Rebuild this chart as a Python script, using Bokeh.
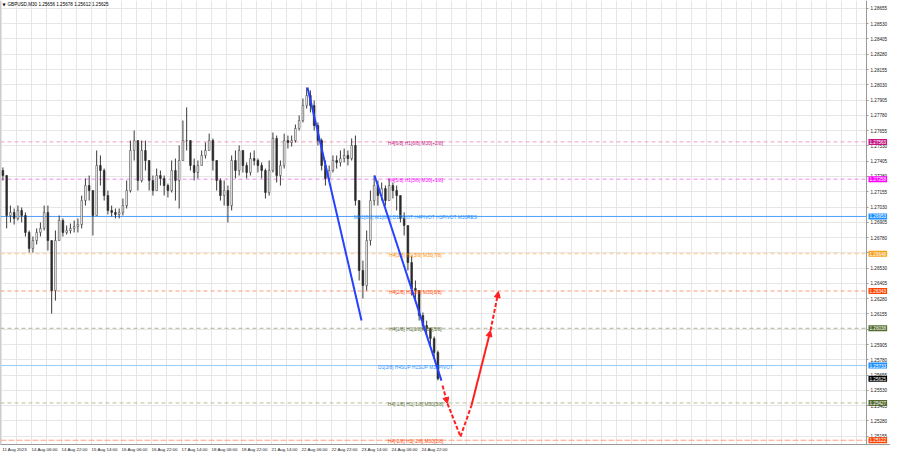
from bokeh.plotting import figure
from bokeh.models import (ColumnDataSource, FixedTicker, Span, Label, Arrow, BoxAnnotation,
                          NormalHead, Range1d, PrintfTickFormatter)
from bokeh.core.properties import value
from bokeh.embed import file_html
from bokeh.resources import INLINE

# ---------------- data ----------------
symbol = "GBPUSD,M30"
header_ohlc = [1.25656, 1.25678, 1.25612, 1.25625]

bars_per_candle = 4          # each drawn candle groups four M30 bars
first_open = 1.27329

closes = [
    1.27288, 1.26961, 1.26986, 1.26937, 1.27002, 1.26961, 1.26822, 1.26691, 1.26756, 1.26822,
    1.26855, 1.26986, 1.26756, 1.26347, 1.26756, 1.26920, 1.26822, 1.26838, 1.26855, 1.26871,
    1.26887, 1.27083, 1.27206, 1.27165, 1.26961, 1.27370, 1.27329, 1.27124, 1.27002, 1.26986,
    1.26969, 1.26986, 1.27042, 1.27165, 1.27493, 1.27574, 1.27247, 1.27493, 1.27411, 1.27247,
    1.27165, 1.27288, 1.27264, 1.27206, 1.27165, 1.27329, 1.27247, 1.27411, 1.27574, 1.27574,
    1.27370, 1.27313, 1.27370, 1.27452, 1.27493, 1.27574, 1.27411, 1.27247, 1.27124, 1.27165,
    1.27042, 1.27411, 1.27329, 1.27493, 1.27370, 1.27313, 1.27427, 1.27411, 1.27370, 1.27329,
    1.27149, 1.27329, 1.27591, 1.27288, 1.27370, 1.27574, 1.27558, 1.27574, 1.27673, 1.27738,
    1.27861, 1.27943, 1.27861, 1.27697, 1.27574, 1.27370, 1.27264, 1.27329, 1.27411, 1.27395,
    1.27427, 1.27452, 1.27427, 1.27534, 1.27083, 1.26511, 1.26388, 1.26756, 1.27083, 1.27206,
    1.27124, 1.27181, 1.27083, 1.27206, 1.27165, 1.27124, 1.26937, 1.26879, 1.26576, 1.26364,
    1.26347, 1.26142, 1.26060, 1.26036, 1.25954, 1.25840, 1.25625]

highs = [
    1.27354, 1.27264, 1.27042, 1.27018, 1.27042, 1.27026, 1.26986, 1.26838, 1.26789, 1.26855,
    1.26904, 1.27042, 1.27042, 1.26756, 1.26838, 1.26961, 1.26937, 1.26879, 1.26895, 1.26920,
    1.26937, 1.27124, 1.27264, 1.27288, 1.27165, 1.27493, 1.27452, 1.27345, 1.27165, 1.27042,
    1.27018, 1.27018, 1.27100, 1.27247, 1.27574, 1.27656, 1.27574, 1.27574, 1.27574, 1.27411,
    1.27288, 1.27345, 1.27329, 1.27288, 1.27222, 1.27411, 1.27427, 1.27534, 1.27738, 1.27845,
    1.27574, 1.27427, 1.27411, 1.27493, 1.27558, 1.27631, 1.27591, 1.27411, 1.27264, 1.27247,
    1.27206, 1.27452, 1.27493, 1.27534, 1.27493, 1.27395, 1.27476, 1.27493, 1.27427, 1.27395,
    1.27345, 1.27411, 1.27640, 1.27615, 1.27411, 1.27631, 1.27615, 1.27615, 1.27705, 1.27779,
    1.27918, 1.28008, 1.27984, 1.27902, 1.27722, 1.27591, 1.27411, 1.27370, 1.27452, 1.27452,
    1.27493, 1.27509, 1.27493, 1.27591, 1.27615, 1.27083, 1.26592, 1.26838, 1.27165, 1.27288,
    1.27247, 1.27231, 1.27206, 1.27264, 1.27231, 1.27206, 1.27124, 1.26986, 1.26879, 1.26633,
    1.26429, 1.26347, 1.26167, 1.26101, 1.26036, 1.25971, 1.25856]

lows = [
    1.27247, 1.26855, 1.26904, 1.26887, 1.26920, 1.26904, 1.26789, 1.26658, 1.26658, 1.26723,
    1.26789, 1.26838, 1.26674, 1.26158, 1.26265, 1.26756, 1.26789, 1.26805, 1.26813, 1.26822,
    1.26822, 1.26855, 1.27042, 1.27083, 1.26797, 1.26961, 1.27206, 1.27083, 1.26969, 1.26953,
    1.26937, 1.26937, 1.26961, 1.27018, 1.27149, 1.27411, 1.27165, 1.27231, 1.27329, 1.27165,
    1.27124, 1.27165, 1.27206, 1.27124, 1.27108, 1.27149, 1.27083, 1.27018, 1.27411, 1.27493,
    1.27329, 1.27247, 1.27264, 1.27370, 1.27427, 1.27493, 1.27329, 1.27165, 1.27083, 1.27042,
    1.26904, 1.27002, 1.27264, 1.27288, 1.27313, 1.27264, 1.27288, 1.27370, 1.27313, 1.27264,
    1.27100, 1.27124, 1.27313, 1.27231, 1.27206, 1.27345, 1.27509, 1.27525, 1.27558, 1.27656,
    1.27722, 1.27836, 1.27804, 1.27656, 1.27534, 1.27329, 1.27206, 1.27247, 1.27313, 1.27345,
    1.27362, 1.27395, 1.27370, 1.27411, 1.27042, 1.26429, 1.26282, 1.26347, 1.26715, 1.27042,
    1.27042, 1.27083, 1.27042, 1.27083, 1.27100, 1.27002, 1.26904, 1.26797, 1.26511, 1.26306,
    1.26265, 1.26101, 1.26020, 1.25979, 1.25897, 1.25791, 1.25612]

time_labels = ["11 Aug 2023", "14 Aug 06:00", "14 Aug 22:00", "15 Aug 14:00",
               "16 Aug 06:00", "16 Aug 22:00", "17 Aug 14:00", "18 Aug 06:00",
               "18 Aug 22:00", "21 Aug 14:00", "22 Aug 06:00", "22 Aug 22:00",
               "23 Aug 14:00", "24 Aug 06:00", "24 Aug 22:00"]
bars_per_time_label = 32

price_ticks = [1.25030, 1.25155, 1.25280, 1.25405, 1.25530, 1.25655, 1.25780, 1.25905,
               1.26030, 1.26155, 1.26280, 1.26405, 1.26530, 1.26655, 1.26780, 1.26905,
               1.27030, 1.27155, 1.27280, 1.27405, 1.27530, 1.27655, 1.27780, 1.27905,
               1.28030, 1.28155, 1.28280, 1.28405, 1.28530, 1.28655]

levels = [1.27563, 1.27258, 1.26953, 1.26648, 1.26343, 1.26038, 1.25733, 1.25427, 1.25122]
level_names = ["H4[6/8] H1[6/8] M30[+2/8]",
               "H4[5/8] H1[5/8] M30[+1/8]",
               "MN1[8/8] W1[8/8] D1PIVOT H4PIVOT H1PIVOT M30RES",
               "H4[3/8] H1[3/8] M30[7/8]",
               "H4[2/8] H1[2/8] M30[6/8]",
               "H4[1/8] H1[1/8] M30[5/8]",
               "D1[3/8] H4SUP H1SUP M30PIVOT",
               "H4[-1/8] H1[-1/8] M30[3/8]",
               "H4[-2/8] H1[-2/8] M30[2/8]"]

# trend lines (bar index, price)
trend1_x = [326.4, 384.0]
trend1_y = [1.28008, 1.26101]
trend2_x = [397.9, 469.3]
trend2_y = [1.27288, 1.25610]

# forecast path (bar index, price)
forecast_x = [470.4, 475.7, 489.6, 501.3, 521.6, 530.1]
forecast_y = [1.25569, 1.25422, 1.25152, 1.25406, 1.26020, 1.26339]
forecast_solid = [False, False, False, True, False]
forecast_head = [True, False, False, True, True]

# ---------------- styles ----------------
level_text_colors = ["#c71585", "#ff00ff", "#1e90ff", "#ff8c00", "#ff4500",
                     "#556b2f", "#1e90ff", "#556b2f", "#ff4500"]
level_box_colors = ["#c71585", "#ff00ff", "#1e90ff", "#f5a21e", "#ff4500",
                    "#556b2f", "#1e90ff", "#556b2f", "#ff4500"]
level_line_colors = ["#f09cc8", "#f08cf0", "#4aa0ff", "#ffc68a", "#ff9a7a",
                     "#b0b596", "#9ccaf5", "#b8bf98", "#ffa080"]
level_dash = ["4 3", "4 3", "solid", "4 3", "4 3", "4 3", "solid", "4 3", "6 2"]

FONT = "Liberation Sans"
FS = "4.6px"

PX_PER_BAR = 0.9375
FRAME_W, FRAME_H = 890, 444
AXIS_PX = 866                      # where the price axis sits inside the frame
x_start = -1.07
x_end = x_start + FRAME_W / PX_PER_BAR
axis_x = x_start + AXIS_PX / PX_PER_BAR
y_bottom, y_top = 1.25087, 1.28720
px_per_price = FRAME_H / (y_top - y_bottom)

# ---------------- derived candles ----------------
n = len(closes)
assert len(highs) == n and len(lows) == n
opens = [first_open] + closes[:-1]
hi = [max(h, o, c) for h, o, c in zip(highs, opens, closes)]
lo = [min(l, o, c) for l, o, c in zip(lows, opens, closes)]
xs = [bars_per_candle * i + (bars_per_candle - 1) / 2 for i in range(n)]
up = [c >= o for o, c in zip(opens, closes)]

src_all = ColumnDataSource(dict(x=xs, hi=hi, lo=lo))
src_up = ColumnDataSource(dict(x=[x for x, u in zip(xs, up) if u],
                               top=[c for c, u in zip(closes, up) if u],
                               bottom=[o for o, u in zip(opens, up) if u]))
src_dn = ColumnDataSource(dict(x=[x for x, u in zip(xs, up) if not u],
                               top=[o for o, u in zip(opens, up) if not u],
                               bottom=[c for c, u in zip(closes, up) if not u]))

p = figure(frame_width=FRAME_W, frame_height=FRAME_H, x_range=Range1d(x_start, x_end),
           y_range=Range1d(y_bottom, y_top), y_axis_location="right",
           output_backend="svg", toolbar_location=None,
           min_border_left=0, min_border_top=0,
           min_border_right=0, min_border_bottom=0)
p.background_fill_color = "white"
p.border_fill_color = "white"
p.outline_line_color = None

# grid
grid_bars = bars_per_time_label // 2
p.xgrid.ticker = FixedTicker(ticks=list(range(0, int(axis_x) + 1, grid_bars)))
p.xgrid.grid_line_color = "#e6e6e6"
p.ygrid.grid_line_color = "#e6e6e6"

# x axis: labels left-aligned at the tick (shift centre by half label width)
shift = 14
xt = [k * bars_per_time_label + shift for k in range(len(time_labels))]
p.xaxis.ticker = FixedTicker(ticks=xt)
p.xaxis.major_label_overrides = {t: lab for t, lab in zip(xt, time_labels)}
p.xaxis.major_tick_out = 0
p.xaxis.major_tick_in = 0
p.xaxis.minor_tick_out = 0
p.xaxis.minor_tick_in = 0
p.xaxis.major_label_standoff = 2
p.xaxis.axis_line_color = "#9a9a9a"
p.xaxis.major_label_text_font = FONT
p.xaxis.major_label_text_font_size = "4.4px"
p.xaxis.major_label_text_color = "#202020"

# price axis fixed inside the frame, like the terminal's price scale
p.yaxis.fixed_location = axis_x
p.yaxis.ticker = FixedTicker(ticks=price_ticks)
p.yaxis.formatter = PrintfTickFormatter(format="%.5f")
p.yaxis.major_tick_out = 2
p.yaxis.major_tick_in = 0
p.yaxis.minor_tick_out = 0
p.yaxis.minor_tick_in = 0
p.yaxis.major_label_standoff = 2
p.yaxis.axis_line_color = "#9a9a9a"
p.yaxis.major_tick_line_color = "#9a9a9a"
p.yaxis.major_label_text_font = FONT
p.yaxis.major_label_text_font_size = FS
p.yaxis.major_label_text_color = "#202020"

# left border line of the chart window
p.add_layout(Span(location=x_start, dimension="height", line_color="#9a9a9a",
                  line_width=1, level="underlay"))

# level lines
for lv, col, dash in zip(levels, level_line_colors, level_dash):
    p.add_layout(Span(location=lv, dimension="width", line_color=col,
                      line_width=1, line_dash=dash, level="underlay"))

# blank price-scale strip (covers grid and level lines right of the axis)
p.add_layout(BoxAnnotation(left=axis_x, fill_color="white", fill_alpha=1.0,
                           line_color=None, level="underlay"))

# candles
p.segment(x0="x", y0="lo", x1="x", y1="hi", source=src_all, line_color="#3a3a3a", line_width=1)
p.vbar(x="x", top="top", bottom="bottom", width=1.8, source=src_up,
       fill_color="white", line_color="#444444", line_width=0.6)
p.vbar(x="x", top="top", bottom="bottom", width=1.8, source=src_dn,
       fill_color="#2a2a2a", line_color="#2a2a2a", line_width=0.6)

# level texts
label_center_bar = 441.6
lsrc = ColumnDataSource(dict(x=[label_center_bar] * len(levels), y=levels,
                             t=level_names, c=level_text_colors))
p.text(x="x", y="y", text="t", text_color="c", source=lsrc, text_align="center",
       text_baseline="middle", y_offset=1.5, text_font=value(FONT), text_font_size="4.8px")

# trend lines
p.line(trend1_x, trend1_y, line_color="#2442ff", line_width=2)
p.line(trend2_x, trend2_y, line_color="#2442ff", line_width=2)

# forecast arrows
for i in range(len(forecast_x) - 1):
    head = NormalHead(size=6, fill_color="#ff2020", line_color="#ff2020") if forecast_head[i] else None
    p.add_layout(Arrow(end=head, x_start=forecast_x[i], y_start=forecast_y[i],
                       x_end=forecast_x[i + 1], y_end=forecast_y[i + 1],
                       line_color="#ff2020", line_width=2,
                       line_dash="solid" if forecast_solid[i] else "4 2"))

# price boxes on the price scale
for lv, col in zip(levels + [header_ohlc[3]], level_box_colors + ["black"]):
    p.add_layout(Label(x=axis_x, x_offset=2, y=lv,
                       text="%.5f" % lv, text_color="white",
                       text_font=FONT, text_font_size=FS, text_align="left",
                       text_baseline="middle", background_fill_color=col,
                       padding=1, level="overlay"))

# header
hx = x_start + 2 / PX_PER_BAR
hy = y_top - 4 / px_per_price
p.add_layout(Label(x=hx, y=hy, text="\u25bc", text_font="DejaVu Sans",
                   text_font_size="4px", text_baseline="middle", text_color="black"))
p.add_layout(Label(x=hx + 5 / PX_PER_BAR, y=hy,
                   text=symbol + "  " + " ".join("%.5f" % v for v in header_ohlc),
                   text_font=FONT, text_font_size="4.6px", text_baseline="middle",
                   text_color="black"))

open("out.html", "w").write(file_html(p, INLINE))
